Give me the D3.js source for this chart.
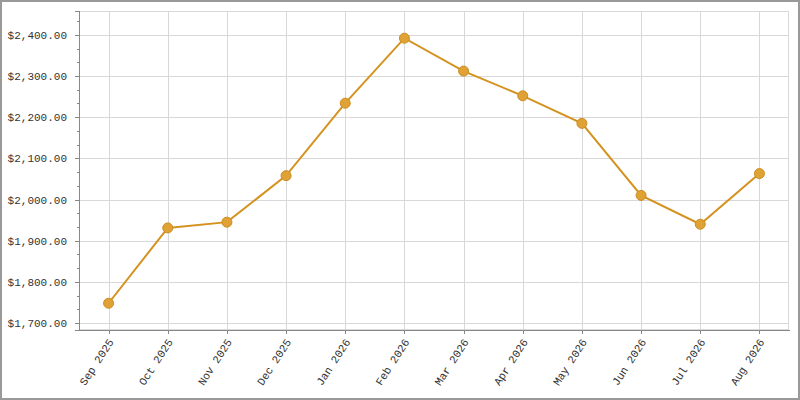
<!DOCTYPE html>
<html>
<head>
<meta charset="utf-8">
<script src="https://cdn.jsdelivr.net/npm/d3@7"></script>
<style>
  body { margin: 0; background: #fff; }
  svg { display: block; }
  text { font-family: "Liberation Mono", monospace; font-size: 11px; fill: #333; }
</style>
</head>
<body>
<div id="chart"></div>
<script>
// Monthly values
const months = ["Sep 2025", "Oct 2025", "Nov 2025", "Dec 2025", "Jan 2026", "Feb 2026",
  "Mar 2026", "Apr 2026", "May 2026", "Jun 2026", "Jul 2026", "Aug 2026"]
const values = [1748, 1931, 1945, 2058, 2234, 2392, 2312, 2252, 2185, 2010, 1940, 2063]
const yDomain = [1683, 2458]
const yTicks = [1700, 1800, 1900, 2000, 2100, 2200, 2300, 2400]

const width = 800, height = 400
const margin = { top: 11, right: 11, bottom: 70, left: 79 }
const lineColour = "#d4921f"
const font = "Liberation Mono, monospace"

const svg = d3.select("#chart").append("svg")
  .attr("width", width)
  .attr("height", height)

// outer frame
svg.append("rect")
  .attr("x", 1).attr("y", 1)
  .attr("width", width - 2).attr("height", height - 2)
  .attr("fill", "#fff")
  .attr("stroke", "#999")
  .attr("stroke-width", 2)

const x = d3.scalePoint()
  .domain(months)
  .range([margin.left, width - margin.right])
  .padding(0.5)

const y = d3.scaleLinear()
  .domain(yDomain)
  .range([height - margin.bottom, margin.top])

const fmt = d3.format("$,.2f")

// plot border (light)
svg.append("rect")
  .attr("x", margin.left + 0.5).attr("y", margin.top + 0.5)
  .attr("width", width - margin.left - margin.right - 1)
  .attr("height", height - margin.top - margin.bottom - 1)
  .attr("fill", "none")
  .attr("stroke", "#d8d8d8")

// grid
const grid = svg.append("g").attr("class", "grid")
  .attr("stroke", "#d8d8d8")
  .attr("shape-rendering", "crispEdges")
grid.selectAll("line.h")
  .data(yTicks)
  .join("line")
  .attr("class", "h")
  .attr("x1", margin.left).attr("x2", width - margin.right)
  .attr("y1", d => Math.round(y(d)) + 0.5).attr("y2", d => Math.round(y(d)) + 0.5)
grid.selectAll("line.v")
  .data(months)
  .join("line")
  .attr("class", "v")
  .attr("y1", margin.top).attr("y2", height - margin.bottom)
  .attr("x1", d => Math.round(x(d)) + 0.5).attr("x2", d => Math.round(x(d)) + 0.5)

// minor y ticks (thirds between majors)
const minor = d3.range(-1, 24)
  .map(i => 1700 + i * 100 / 3)
  .filter(v => v > yDomain[0] && v < yDomain[1])
  .filter(v => Math.abs(Math.round(v) % 100) > 1)
svg.append("g")
  .attr("stroke", "#888")
  .attr("shape-rendering", "crispEdges")
  .selectAll("line")
  .data(minor)
  .join("line")
  .attr("x1", margin.left - 2).attr("x2", margin.left)
  .attr("y1", d => Math.round(y(d)) + 0.5).attr("y2", d => Math.round(y(d)) + 0.5)

// y axis
const yAxis = svg.append("g")
  .attr("transform", `translate(${margin.left},0)`)
  .attr("shape-rendering", "crispEdges")
  .call(d3.axisLeft(y).tickValues(yTicks).tickFormat(fmt).tickSize(4).tickPadding(8))
yAxis.select(".domain").attr("stroke", "#888")
yAxis.selectAll(".tick line").attr("stroke", "#888")
yAxis.selectAll("text").attr("fill", "#333").attr("font-size", 11)
  .attr("font-family", font)

// x axis
const xAxis = svg.append("g")
  .attr("transform", `translate(0,${height - margin.bottom})`)
  .attr("shape-rendering", "crispEdges")
  .call(d3.axisBottom(x).tickSize(4).tickSizeOuter(0))
xAxis.select(".domain").attr("stroke", "#888")
xAxis.selectAll(".tick line").attr("stroke", "#888")
xAxis.selectAll("text")
  .attr("fill", "#333").attr("font-size", 11)
  .attr("font-family", font)
  .attr("text-anchor", "end")
  .attr("y", 0).attr("dy", 0)
  .attr("transform", "translate(5,12) rotate(-57)")

// line
const line = d3.line()
  .x((d, i) => x(months[i]))
  .y(d => y(d))
svg.append("path")
  .datum(values)
  .attr("fill", "none")
  .attr("stroke", lineColour)
  .attr("stroke-width", 2)
  .attr("d", line)

// markers
svg.append("g").selectAll("circle")
  .data(values)
  .join("circle")
  .attr("cx", (d, i) => x(months[i]))
  .attr("cy", d => y(d))
  .attr("r", 5)
  .attr("fill", "#e0a234")
  .attr("stroke", "#c98d22")
  .attr("stroke-width", 1)
</script>
</body>
</html>
